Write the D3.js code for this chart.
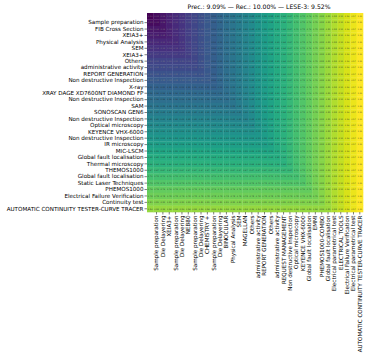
<!DOCTYPE html>
<html>
<head>
<meta charset="utf-8">
<script src="https://cdn.jsdelivr.net/npm/d3@7"></script>
<style>
body { margin: 0; background: #fff; }
text { font-family: "DejaVu Sans", sans-serif; }
</style>
</head>
<body>
<div id="chart"></div>
<script>
var chartTitle = "Prec.: 9.09% \u2014 Rec.: 10.00% \u2014 LESE-3: 9.52%";

// row labels (first row has no label)
var rowLabels = ["", "Sample preparation", "FIB Cross Section", "XEIA3+", "Physical Analysis", "SEM", "XEIA3+",
    "Others", "administrative activity", "REPORT GENERATION", "Non destructive Inspection", "X-ray",
    "XRAY DAGE XD7600NT DIAMOND FP", "Non destructive Inspection", "SAM", "SONOSCAN GEN6",
    "Non destructive Inspection", "Optical microscopy", "KEYENCE VHX-6000", "Non destructive Inspection",
    "IR microscopy", "MIC-LSCM", "Global fault localisation", "Thermal microscopy", "THEMOS1000",
    "Global fault localisation", "Static Laser Techniques", "PHEMOS1000", "Electrical Failure Verification",
    "Continuity test", "AUTOMATIC CONTINUITY TESTER-CURVE TRACER"];

// column labels (first column has no label)
var colLabels = ["", "Sample preparation", "Die Delayering", "XEIA3+", "Sample preparation", "Die Delayering", "NEB80",
    "Sample preparation", "Die Delayering", "CHEMISTRY +", "Sample preparation", "Die Delayering", "BINOCULAR",
    "Physical Analysis", "SEM", "MAGELLAN", "Others", "administrative activity", "REPORT GENERATION", "Others",
    "administrative activity", "REQUEST MANAGEMENT", "Non destructive Inspection", "Optical microscopy",
    "KEYENCE VHX-6000", "Global fault localisation", "EMMI", "PHEMOS1000-COMBO", "Global fault localisation",
    "Electrical parametrical test", "ELECTRICAL TOOLS", "Electrical Failure Verification",
    "Electrical parametrical test", "AUTOMATIC CONTINUITY TESTER-CURVE TRACER"];

// cell values, one array per row
var values = [
    [0,.03,.06,.09,.12,.15,.18,.21,.24,.27,.30,.33,.36,.39,.42,.45,.48,.52,.55,.58,.61,.64,.67,.70,.73,.76,.79,.82,.85,.88,.91,.94,.97,1],
    [.03,.03,.06,.09,.12,.15,.18,.21,.24,.27,.30,.33,.36,.39,.42,.45,.48,.52,.55,.58,.61,.64,.67,.70,.73,.76,.79,.82,.85,.88,.91,.94,.97,1],
    [.06,.06,.06,.09,.12,.15,.18,.21,.24,.27,.30,.33,.36,.39,.42,.45,.48,.52,.55,.58,.61,.64,.67,.70,.73,.76,.79,.82,.85,.88,.91,.94,.97,1],
    [.08,.08,.08,.09,.12,.15,.18,.21,.24,.27,.30,.33,.36,.39,.42,.45,.48,.52,.55,.58,.61,.64,.67,.70,.73,.76,.79,.82,.85,.88,.91,.94,.97,1],
    [.11,.11,.11,.11,.12,.15,.18,.21,.24,.27,.30,.33,.36,.39,.42,.45,.48,.52,.55,.58,.61,.64,.67,.70,.73,.76,.79,.82,.85,.88,.91,.94,.97,1],
    [.14,.14,.14,.14,.14,.15,.18,.21,.24,.27,.30,.33,.36,.39,.42,.45,.48,.52,.55,.58,.61,.64,.67,.70,.73,.76,.79,.82,.85,.88,.91,.94,.97,1],
    [.17,.17,.17,.17,.17,.17,.18,.21,.24,.27,.30,.33,.36,.39,.42,.45,.48,.52,.55,.58,.61,.64,.67,.70,.73,.76,.79,.82,.85,.88,.91,.94,.97,1],
    [.20,.20,.20,.20,.20,.20,.20,.21,.24,.27,.30,.33,.36,.39,.42,.45,.48,.52,.55,.58,.61,.64,.67,.70,.73,.76,.79,.82,.85,.88,.91,.94,.97,1],
    [.22,.22,.22,.22,.22,.22,.22,.22,.24,.27,.30,.33,.36,.39,.42,.45,.48,.52,.55,.58,.61,.64,.67,.70,.73,.76,.79,.82,.85,.88,.91,.94,.97,1],
    [.25,.25,.25,.25,.25,.25,.25,.25,.25,.27,.30,.33,.36,.39,.42,.45,.48,.52,.55,.58,.61,.64,.67,.70,.73,.76,.79,.82,.85,.88,.91,.94,.97,1],
    [.28,.28,.28,.28,.28,.28,.28,.28,.28,.28,.30,.33,.36,.39,.42,.45,.48,.52,.55,.58,.61,.64,.67,.70,.73,.76,.79,.82,.85,.88,.91,.94,.97,1],
    [.31,.31,.31,.31,.31,.31,.31,.31,.31,.31,.31,.33,.36,.39,.42,.45,.48,.52,.55,.58,.61,.64,.67,.70,.73,.76,.79,.82,.85,.88,.91,.94,.97,1],
    [.34,.34,.34,.34,.34,.34,.34,.34,.34,.34,.34,.34,.36,.39,.42,.45,.48,.52,.55,.58,.61,.64,.67,.70,.73,.76,.79,.82,.85,.88,.91,.94,.97,1],
    [.36,.36,.36,.36,.36,.36,.36,.36,.36,.36,.36,.36,.36,.39,.42,.45,.48,.52,.55,.58,.61,.64,.67,.70,.73,.76,.79,.82,.85,.88,.91,.94,.97,1],
    [.39,.39,.39,.39,.39,.39,.39,.39,.39,.39,.39,.39,.39,.39,.42,.45,.48,.52,.55,.58,.61,.64,.67,.70,.73,.76,.79,.82,.85,.88,.91,.94,.97,1],
    [.42,.42,.42,.42,.42,.42,.42,.42,.42,.42,.42,.42,.42,.42,.42,.45,.48,.52,.55,.58,.61,.64,.67,.70,.73,.76,.79,.82,.85,.88,.91,.94,.97,1],
    [.45,.45,.45,.45,.45,.45,.45,.45,.45,.45,.45,.45,.45,.45,.45,.45,.48,.52,.55,.58,.61,.64,.67,.70,.73,.76,.79,.82,.85,.88,.91,.94,.97,1],
    [.48,.48,.48,.48,.48,.48,.48,.48,.48,.48,.48,.48,.48,.48,.48,.48,.48,.52,.55,.58,.61,.64,.67,.70,.73,.76,.79,.82,.85,.88,.91,.94,.97,1],
    [.50,.50,.50,.50,.50,.50,.50,.50,.50,.50,.50,.50,.50,.50,.50,.50,.50,.52,.55,.58,.61,.64,.67,.70,.73,.76,.79,.82,.85,.88,.91,.94,.97,1],
    [.53,.53,.53,.53,.53,.53,.53,.53,.53,.53,.53,.53,.53,.53,.53,.53,.53,.53,.55,.58,.61,.64,.67,.70,.73,.76,.79,.82,.85,.88,.91,.94,.97,1],
    [.56,.56,.56,.56,.56,.56,.56,.56,.56,.56,.56,.56,.56,.56,.56,.56,.56,.56,.56,.58,.61,.64,.67,.70,.73,.76,.79,.82,.85,.88,.91,.94,.97,1],
    [.59,.59,.59,.59,.59,.59,.59,.59,.59,.59,.59,.59,.59,.59,.59,.59,.59,.59,.59,.59,.61,.64,.67,.70,.73,.76,.79,.82,.85,.88,.91,.94,.97,1],
    [.62,.62,.62,.62,.62,.62,.62,.62,.62,.62,.62,.62,.62,.62,.62,.62,.62,.62,.62,.62,.62,.64,.67,.70,.73,.76,.79,.82,.85,.88,.91,.94,.97,1],
    [.64,.64,.64,.64,.64,.64,.64,.64,.64,.64,.64,.64,.64,.64,.64,.64,.64,.64,.64,.64,.64,.64,.67,.70,.73,.76,.79,.82,.85,.88,.91,.94,.97,1],
    [.67,.67,.67,.67,.67,.67,.67,.67,.67,.67,.67,.67,.67,.67,.67,.67,.67,.67,.67,.67,.67,.67,.67,.70,.73,.76,.79,.82,.85,.88,.91,.94,.97,1],
    [.70,.70,.70,.70,.70,.70,.70,.70,.70,.70,.70,.70,.70,.70,.70,.70,.70,.70,.70,.70,.70,.70,.70,.70,.73,.76,.79,.82,.85,.88,.91,.94,.97,1],
    [.73,.73,.73,.73,.73,.73,.73,.73,.73,.73,.73,.73,.73,.73,.73,.73,.73,.73,.73,.73,.73,.73,.73,.73,.73,.76,.79,.82,.85,.88,.91,.94,.97,1],
    [.76,.76,.76,.76,.76,.76,.76,.76,.76,.76,.76,.76,.76,.76,.76,.76,.76,.76,.76,.76,.76,.76,.76,.76,.76,.76,.79,.82,.85,.88,.91,.94,.97,1],
    [.78,.78,.78,.78,.78,.78,.78,.78,.78,.78,.78,.78,.78,.78,.78,.78,.78,.78,.78,.78,.78,.78,.78,.78,.78,.78,.79,.82,.85,.88,.91,.94,.97,1],
    [.81,.81,.81,.81,.81,.81,.81,.81,.81,.81,.81,.81,.81,.81,.81,.81,.81,.81,.81,.81,.81,.81,.81,.81,.81,.81,.81,.82,.85,.88,.91,.94,.97,1],
    [.84,.84,.84,.84,.84,.84,.84,.84,.84,.84,.84,.84,.84,.84,.84,.84,.84,.84,.84,.84,.84,.84,.84,.84,.84,.84,.84,.84,.85,.88,.91,.94,.97,1]
];

var width = 372,
    height = 362;

var svg = d3.select("#chart").append("svg")
    .attr("width", width)
    .attr("height", height);

//Scales
var x = d3.scaleBand()
    .domain(d3.range(colLabels.length))
    .range([147, 363]);

var y = d3.scaleBand()
    .domain(d3.range(rowLabels.length))
    .range([13, 212]);

var color = d3.scaleSequential(d3.interpolateViridis)
    .domain([0, 1]);

var fmt = d3.format(".2f");

//Flatten to cells
var cells = [];
values.forEach(function(row, i) {
    row.forEach(function(v, j) {
        cells.push({r: i, c: j, v: v});
    });
});

var heat = svg.append("g").attr("class", "heat");

heat.selectAll("rect")
    .data(cells)
    .enter()
    .append("rect")
    .attr("x", function(d) { return x(d.c); })
    .attr("y", function(d) { return y(d.r); })
    .attr("width", x.bandwidth() + 0.3)
    .attr("height", y.bandwidth() + 0.3)
    .attr("fill", function(d) { return color(d.v); });

// cell annotations
heat.selectAll("text")
    .data(cells)
    .enter()
    .append("text")
    .attr("x", function(d) { return x(d.c) + x.bandwidth() / 2; })
    .attr("y", function(d) { return y(d.r) + y.bandwidth() / 2; })
    .attr("dy", "0.35em")
    .attr("text-anchor", "middle")
    .attr("font-size", 2.1)
    .attr("fill", function(d) { return d.v < 0.3 ? "#888" : "#222"; })
    .attr("fill-opacity", 0.8)
    .text(function(d) { return fmt(d.v); });

//Y axis
var yAxis = svg.append("g")
    .attr("transform", "translate(147,0)")
    .call(d3.axisLeft(y).tickSize(2.5).tickPadding(1).tickFormat(function(i) { return rowLabels[i]; }));

//X axis
var xAxis = svg.append("g")
    .attr("transform", "translate(0,212)")
    .call(d3.axisBottom(x).tickSize(2.5).tickPadding(1).tickFormat(function(i) { return colLabels[i]; }));

xAxis.selectAll("text")
    .attr("transform", "rotate(-90)")
    .attr("text-anchor", "end")
    .attr("x", -3.5)
    .attr("y", 0)
    .attr("dy", "0.35em");

[xAxis, yAxis].forEach(function(ax) {
    ax.select(".domain").remove();
    ax.selectAll(".tick line").attr("stroke", "#000").attr("stroke-width", 0.5);
    ax.selectAll(".tick text").attr("font-size", 5.6).attr("fill", "#000").style("font-family", "DejaVu Sans");
    // no tick for the unlabeled first entry
    ax.selectAll(".tick").filter(function(i) { return i === 0; }).remove();
});

//Title
svg.append("text")
    .attr("x", 259)
    .attr("y", 9)
    .attr("text-anchor", "middle")
    .attr("font-size", 6.1)
    .attr("fill", "#000")
    .text(chartTitle);
</script>
</body>
</html>
